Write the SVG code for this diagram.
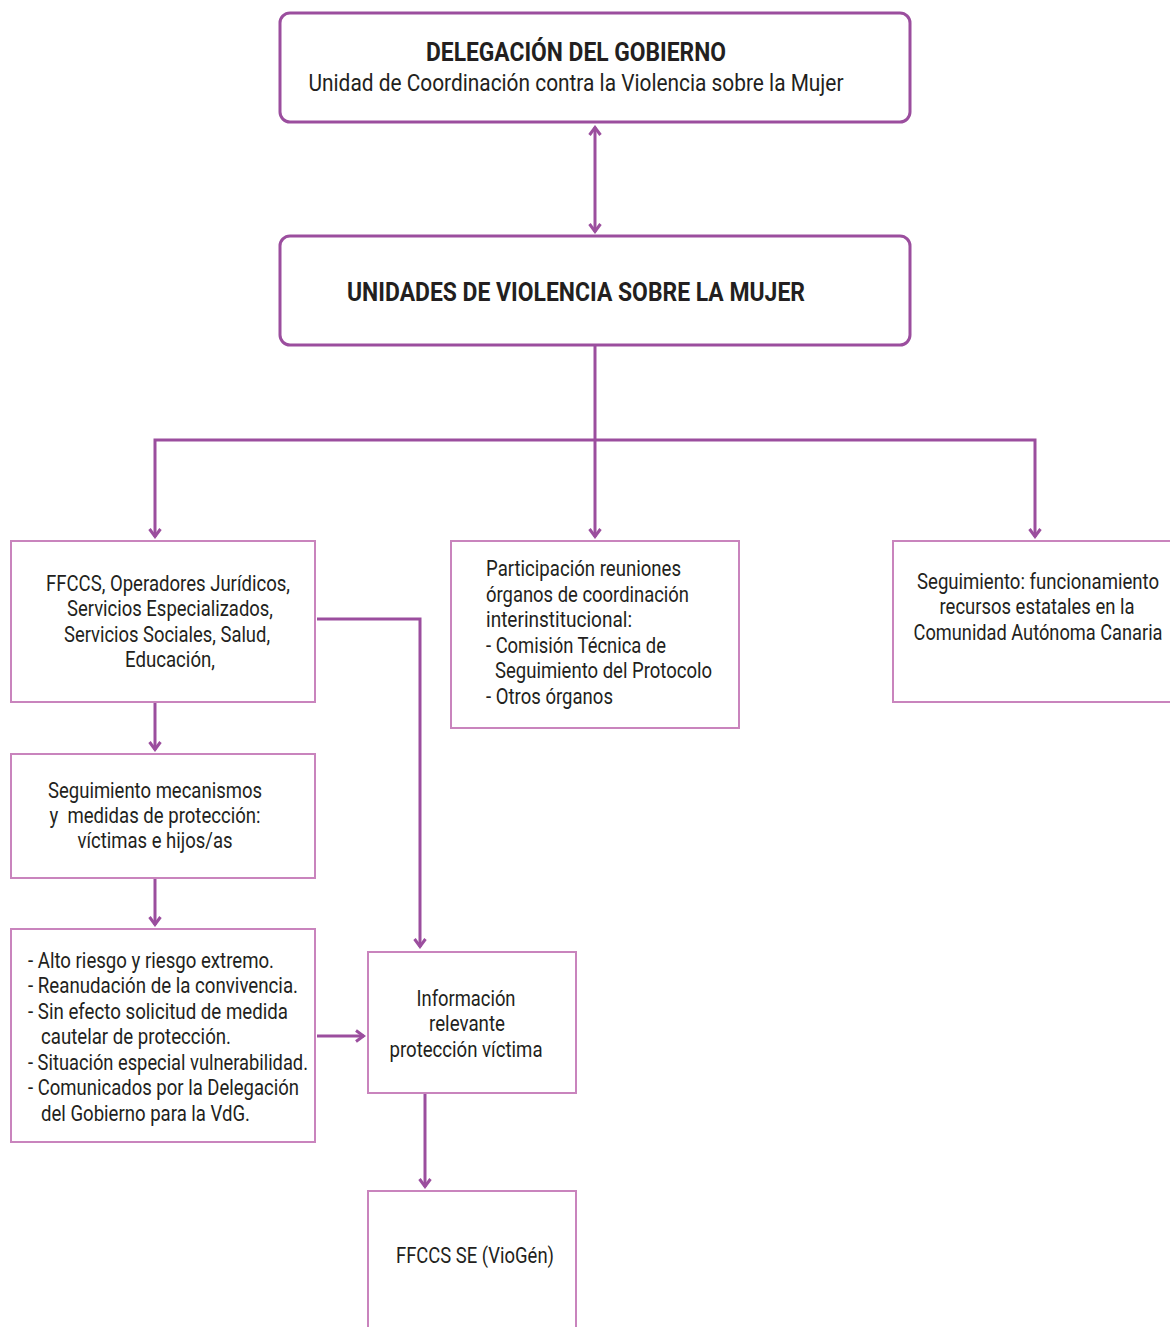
<svg xmlns="http://www.w3.org/2000/svg" width="1170" height="1327" viewBox="0 0 1170 1327">
<style>
.bg{fill:#ffffff}
.main{fill:#ffffff;stroke:#9b4e9e;stroke-width:3}
.box{fill:#ffffff;stroke:#c984bd;stroke-width:2}
.t{font-family:Roboto,"Liberation Sans",sans-serif;font-size:22px;fill:#231f20}
.b{font-family:Roboto,"Liberation Sans",sans-serif;font-size:25px;font-weight:bold;fill:#231f20}
.c{text-anchor:middle}
.con{fill:none;stroke:#9b4e9e;stroke-width:3}
</style>
<defs>
<marker id="ah" viewBox="0 0 14 14" refX="12" refY="7" markerWidth="14" markerHeight="14" markerUnits="userSpaceOnUse" orient="auto-start-reverse">
<path d="M4,1.5 L11.5,7 L4,12.5" fill="none" stroke="#9b4e9e" stroke-width="3"/>
</marker>
</defs>
<rect class="bg" x="0" y="0" width="1170" height="1327"/>
<g id="connectors">
<line class="con" x1="595" y1="127" x2="595" y2="232" marker-start="url(#ah)" marker-end="url(#ah)"/>
<polyline class="con" points="595,346 595,440"/>
<polyline class="con" points="155,537 155,440 1035,440 1035,537" marker-start="url(#ah)" marker-end="url(#ah)"/>
<line class="con" x1="595" y1="440" x2="595" y2="537" marker-end="url(#ah)"/>
<line class="con" x1="155" y1="703" x2="155" y2="750" marker-end="url(#ah)"/>
<line class="con" x1="155" y1="879" x2="155" y2="925" marker-end="url(#ah)"/>
<polyline class="con" points="317,619 420,619 420,947" marker-end="url(#ah)"/>
<line class="con" x1="317" y1="1036" x2="364" y2="1036" marker-end="url(#ah)"/>
<line class="con" x1="425" y1="1094" x2="425" y2="1187" marker-end="url(#ah)"/>
</g>
<g id="n_delegacion">
<rect class="main" x="280" y="13" width="630" height="109" rx="10"/>
<text class="b c" x="576" y="61" textLength="300" lengthAdjust="spacingAndGlyphs">DELEGACIÓN DEL GOBIERNO</text>
<text class="t c" x="576" y="91" style="font-size:23px" textLength="535" lengthAdjust="spacingAndGlyphs">Unidad de Coordinación contra la Violencia sobre la Mujer</text>
</g>
<g id="n_unidades">
<rect class="main" x="280" y="236" width="630" height="109" rx="10"/>
<text class="b c" x="576" y="301" textLength="458" lengthAdjust="spacingAndGlyphs">UNIDADES DE VIOLENCIA SOBRE LA MUJER</text>
</g>
<g id="n_ffccs">
<rect class="box" x="11" y="541" width="304" height="161"/>
<text class="t c" x="168" y="591" textLength="244" lengthAdjust="spacingAndGlyphs">FFCCS, Operadores Jurídicos,</text>
<text class="t c" x="170" y="616" textLength="206" lengthAdjust="spacingAndGlyphs">Servicios Especializados,</text>
<text class="t c" x="167" y="642" textLength="206" lengthAdjust="spacingAndGlyphs">Servicios Sociales, Salud,</text>
<text class="t c" x="170" y="667" textLength="90" lengthAdjust="spacingAndGlyphs">Educación,</text>
</g>
<g id="n_participacion">
<rect class="box" x="451" y="541" width="288" height="187"/>
<text class="t" x="486" y="576" textLength="195" lengthAdjust="spacingAndGlyphs">Participación reuniones</text>
<text class="t" x="486" y="602" textLength="203" lengthAdjust="spacingAndGlyphs">órganos de coordinación</text>
<text class="t" x="486" y="627" textLength="146" lengthAdjust="spacingAndGlyphs">interinstitucional:</text>
<text class="t" x="486" y="653" textLength="180" lengthAdjust="spacingAndGlyphs">- Comisión Técnica de</text>
<text class="t" x="495" y="678" textLength="217" lengthAdjust="spacingAndGlyphs">Seguimiento del Protocolo</text>
<text class="t" x="486" y="704" textLength="127" lengthAdjust="spacingAndGlyphs">- Otros órganos</text>
</g>
<g id="n_seguimiento_recursos">
<rect class="box" x="893" y="541" width="290" height="161"/>
<text class="t c" transform="translate(1038,589) scale(0.85,1)" x="0" y="0" textLength="284.7" lengthAdjust="spacingAndGlyphs">Seguimiento: funcionamiento</text>
<text class="t c" transform="translate(1037,614) scale(0.85,1)" x="0" y="0" textLength="229.4" lengthAdjust="spacingAndGlyphs">recursos estatales en la</text>
<text class="t c" transform="translate(1038,640) scale(0.85,1)" x="0" y="0" textLength="292.9" lengthAdjust="spacingAndGlyphs">Comunidad Autónoma Canaria</text>
</g>
<g id="n_seguimiento_mecanismos">
<rect class="box" x="11" y="754" width="304" height="124"/>
<text class="t c" x="155" y="798" textLength="214" lengthAdjust="spacingAndGlyphs">Seguimiento mecanismos</text>
<text class="t c" x="155" y="823" textLength="211" lengthAdjust="spacingAndGlyphs" xml:space="preserve">y  medidas de protección:</text>
<text class="t c" x="155" y="848" textLength="155" lengthAdjust="spacingAndGlyphs">víctimas e hijos/as</text>
</g>
<g id="n_riesgos">
<rect class="box" x="11" y="929" width="304" height="213"/>
<text class="t" x="28" y="968" textLength="246" lengthAdjust="spacingAndGlyphs">- Alto riesgo y riesgo extremo.</text>
<text class="t" x="28" y="993" textLength="270" lengthAdjust="spacingAndGlyphs">- Reanudación de la convivencia.</text>
<text class="t" x="28" y="1019" textLength="260" lengthAdjust="spacingAndGlyphs">- Sin efecto solicitud de medida</text>
<text class="t" x="41" y="1044" textLength="190" lengthAdjust="spacingAndGlyphs">cautelar de protección.</text>
<text class="t" x="28" y="1070" textLength="280" lengthAdjust="spacingAndGlyphs">- Situación especial vulnerabilidad.</text>
<text class="t" x="28" y="1095" textLength="271" lengthAdjust="spacingAndGlyphs">- Comunicados por la Delegación</text>
<text class="t" x="41" y="1121" textLength="209" lengthAdjust="spacingAndGlyphs">del Gobierno para la VdG.</text>
</g>
<g id="n_informacion">
<rect class="box" x="368" y="952" width="208" height="141"/>
<text class="t c" x="466" y="1006" textLength="99" lengthAdjust="spacingAndGlyphs">Información</text>
<text class="t c" x="467" y="1031" textLength="76" lengthAdjust="spacingAndGlyphs">relevante</text>
<text class="t c" x="466" y="1057" textLength="153" lengthAdjust="spacingAndGlyphs">protección víctima</text>
</g>
<g id="n_viogen">
<rect class="box" x="368" y="1191" width="208" height="150"/>
<text class="t" x="396" y="1263" textLength="158" lengthAdjust="spacingAndGlyphs">FFCCS SE (VioGén)</text>
</g>
</svg>
